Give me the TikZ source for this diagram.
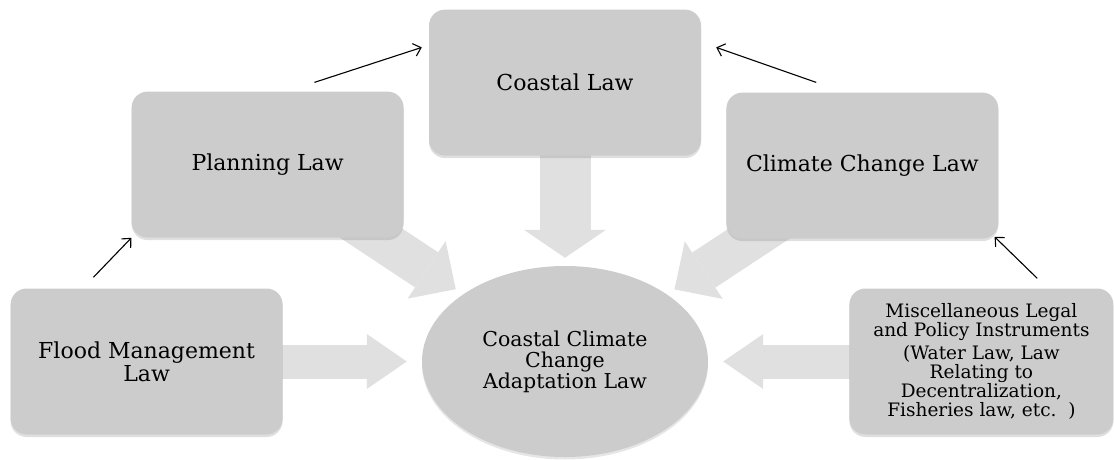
\documentclass[tikz,border=0pt]{standalone}
\usepackage{fontspec}
\setmainfont{DejaVu Serif}
\usetikzlibrary{shapes,arrows.meta,positioning,calc,shadows,backgrounds}
\definecolor{boxgray}{RGB}{204,204,204}
\definecolor{arrowgray}{RGB}{224,224,224}
\newcommand\tightlines{\lineskiplimit-30pt\relax}

\begin{document}
\begin{tikzpicture}[
      x=1pt,y=-1pt,node distance = 25pt and 25pt,
      lawbox/.style = {rectangle,rounded corners=16pt,fill=boxgray,minimum width=272pt,minimum height=146pt,align=center,
        font=\fontsize{22}{23}\selectfont\tightlines,drop shadow={shadow xshift=0pt,shadow yshift=-2.5pt,opacity=0.25}},
      hub/.style = {ellipse,fill=boxgray,minimum width=286pt,minimum height=191pt,inner sep=0pt,align=center,
        font=\fontsize{20.5}{21}\selectfont\tightlines,drop shadow={shadow xshift=0pt,shadow yshift=-2.5pt,opacity=0.2}},
      link/.style = {-{Straight Barb[length=7pt,width=13pt]},line width=1.1pt},
      fat/.style args = {#1/#2/#3}{line width=#1,draw=arrowgray,-{Triangle[length=#3 0 0,width=#2 0 0,line width=0pt 0 0]}}
    ]
      \useasboundingbox (0,0) rectangle (1114,460);

      \node (adapt)[hub] at (565,361.5) {Coastal Climate\\Change\\Adaptation Law};
      \node (coastal)[lawbox,above = 110pt of adapt]{Coastal Law};
      \node (plan)[lawbox,below left = 82pt and 25pt of coastal.north west]{Planning Law};
      \node (climate)[lawbox,below right = 83pt and 25pt of coastal.north east]{Climate Change Law};
      \node (flood)[lawbox,left = 139pt of adapt]{Flood Management\\Law};
      \node (misc)[lawbox,minimum width=264pt,font=\fontsize{18.5}{19}\selectfont\tightlines,right = 141pt of adapt]
        {Miscellaneous Legal\\and Policy Instruments\\[4pt](Water Law, Law\\Relating to\\Decentralization,\\Fisheries law, etc.\ \ )};

      % wide arrows into the centre
      \begin{scope}[on background layer]
        \draw[fat=34pt/55pt/40pt,shorten >=15pt] (flood.center) -- (adapt);
        \draw[fat=34pt/55pt/40pt,shorten >=15pt] (misc.center) -- (adapt);
        \draw[fat=51pt/82pt/28pt,shorten >=8pt] (coastal.center) -- (adapt);
        \draw[fat=42pt/69pt/35pt,shorten >=9pt] (plan.center) -- (adapt);
        \draw[fat=42pt/69pt/35pt,shorten >=9pt] (climate.center) -- (adapt);
      \end{scope}

      % thin arrows round the outside
      \draw[link] ([shift={(83,-11)}]flood.north west) -- (plan.south west);
      \draw[link] ([shift={(183,-9)}]plan.north west) -- ([shift={(-7,38)}]coastal.north west);
      \draw[link] ([shift={(90,-10)}]climate.north west) -- ([shift={(15,38)}]coastal.north east);
      \draw[link] ([shift={(188,-10)}]misc.north west) -- ([shift={(-4,-2)}]climate.south east);
    \end{tikzpicture}
\end{document}
